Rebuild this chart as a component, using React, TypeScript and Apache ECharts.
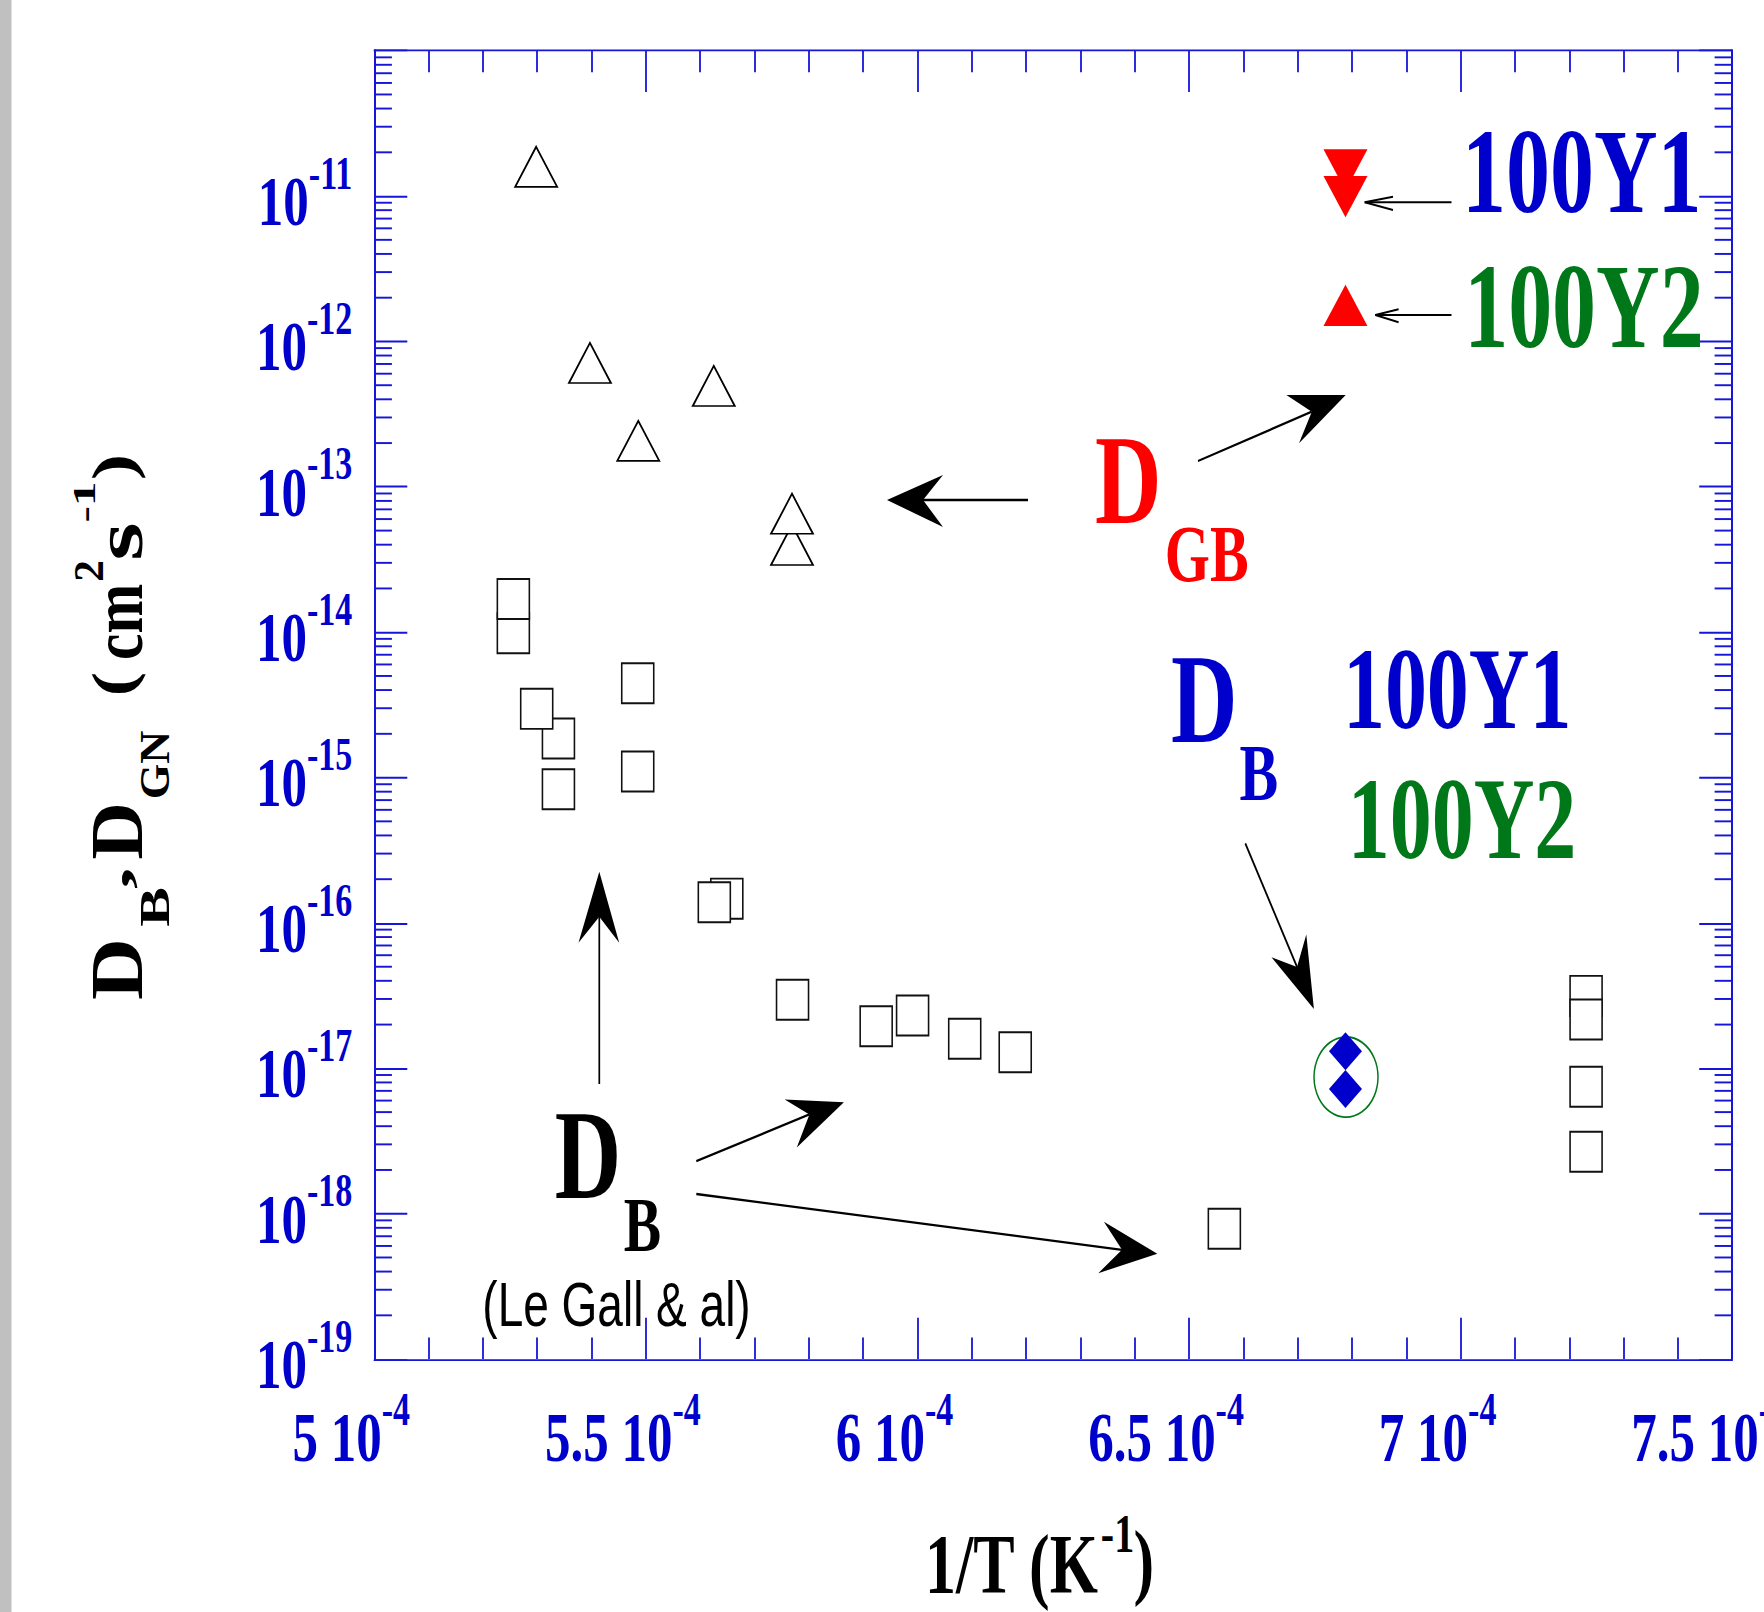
import React, { useEffect, useRef } from 'react';
import * as echarts from 'echarts';

// Page geometry: the reference is vertically stretched, so the chart is drawn
// in an unstretched frame and stretched with a CSS scaleY.
const FULL_W = 1764;
const FULL_H = 1612;
const H = 1168;
const S = FULL_H / H;

// ---------- data (x in units of 1e-4 K^-1, y in cm^2 s^-1) ----------
// D_GB (Le Gall & al) open triangles
const gbLeGallX = [5.298, 5.397, 5.486, 5.625, 5.769, 5.769];
const gbLeGallY = [1.59e-11, 7.11e-13, 2.07e-13, 4.94e-13, 3.98e-14, 6.53e-14];

// D_B (Le Gall & al) open squares
const bLeGallX = [5.256, 5.256, 5.339, 5.299, 5.339, 5.485, 5.485, 5.649, 5.626, 5.770, 5.924, 5.991, 6.087, 6.180, 6.565, 7.231, 7.231, 7.231, 7.231];
const bLeGallY = [9.84e-15, 1.69e-14, 1.86e-15, 2.97e-15, 8.32e-16, 4.45e-15, 1.10e-15, 1.47e-16, 1.39e-16, 2.96e-17, 1.95e-17, 2.31e-17, 1.60e-17, 1.29e-17, 7.87e-19, 3.15e-17, 2.17e-17, 7.46e-18, 2.67e-18];

// D_GB 100Y1 (down triangles) and 100Y2 (up triangle)
const gb100Y1X = [6.788, 6.788];
const gb100Y1Y = [1.51e-11, 9.91e-12];
const gb100Y2X = [6.788];
const gb100Y2Y = [1.77e-12];

// D_B 100Y1 / 100Y2 (diamonds) and the ring around them
const b100YX = [6.788, 6.788];
const b100YY = [1.31e-17, 7.22e-18];
const ringX = [6.789];
const ringY = [8.71e-18];

// ---------- axes ----------
const xMin = 5;
const xMax = 7.5;
const xStep = 0.5;
const xTickLabels = ['5', '5.5', '6', '6.5', '7', '7.5'];
const yMin = 1e-19;
const yMax = 1e-10;
const yTickExponents = ['-19', '-18', '-17', '-16', '-15', '-14', '-13', '-12', '-11'];
const yDecades = [-19, -18, -17, -16, -15, -14, -13, -12, -11];
const minorMantissas = [2, 3, 4, 5, 6, 7, 8, 9];

const SERIF = '"Liberation Serif", "Times New Roman", serif';
const SANS = '"Liberation Sans", Arial, sans-serif';
const BLUE = '#0000CC';
const AXIS = '#1616D8';
const GREEN = '#00781A';
const RED = '#FF0000';

const zip = (xs: number[], ys: number[]) => xs.map((x, i) => [x, ys[i]]);

function txt(text: string, x: number, yFull: number, fontSize: number, fill: string, opt: any = {}) {
  const el: any = {
    type: 'text',
    x,
    y: yFull / S,
    silent: true,
    z: 10,
    style: {
      text,
      fill,
      fontSize,
      fontFamily: opt.family || SERIF,
      fontWeight: opt.weight || 'bold',
      lineHeight: Math.round(fontSize * (opt.lh || 0.75)),
      align: 'center',
      verticalAlign: 'middle',
      textAlign: 'center',
      textVerticalAlign: 'middle',
    },
  };
  if (opt.rotation) el.rotation = opt.rotation;
  if (opt.scaleX) el.scaleX = opt.scaleX;
  return el;
}

const pt = (x: number, yFull: number) => [x, yFull / S];

function solidArrow(from: number[], notch: number[], tip: number[], b1: number[], b2: number[]) {
  const f = pt(from[0], from[1]);
  const n = pt(notch[0], notch[1]);
  return [
    { type: 'line', silent: true, z: 10, shape: { x1: f[0], y1: f[1], x2: n[0], y2: n[1] }, style: { stroke: '#000', lineWidth: 1.7 } },
    {
      type: 'polygon', silent: true, z: 10,
      shape: { points: [pt(tip[0], tip[1]), pt(b1[0], b1[1]), n, pt(b2[0], b2[1])] },
      style: { fill: '#000' },
    },
  ];
}

function openArrow(from: number[], tip: number[], b1: number[], b2: number[]) {
  const f = pt(from[0], from[1]);
  const t = pt(tip[0], tip[1]);
  return [
    { type: 'line', silent: true, z: 10, shape: { x1: f[0], y1: f[1], x2: t[0], y2: t[1] }, style: { stroke: '#000', lineWidth: 1.5 } },
    { type: 'polyline', silent: true, z: 10, shape: { points: [pt(b1[0], b1[1]), t, pt(b2[0], b2[1])] }, style: { stroke: '#000', lineWidth: 1.5, fill: null } },
  ];
}

const R90 = Math.PI / 2;

export default function App() {
  const ref = useRef<HTMLDivElement>(null);

  useEffect(() => {
    if (!ref.current) return;
    const chart = echarts.init(ref.current, null, { renderer: 'svg' });

    const yMinorTicks: number[] = [];
    yDecades.forEach((e) => minorMantissas.forEach((m) => yMinorTicks.push(m * Math.pow(10, e))));

    const labelRich = {
      b: { fontSize: 51, fontFamily: SERIF, fontWeight: 'bold', color: BLUE, lineHeight: 75 },
      s: { fontSize: 34, fontFamily: SERIF, fontWeight: 'bold', color: BLUE, lineHeight: 34, verticalAlign: 'top' },
    };

    const xAxisBase = {
      type: 'value',
      min: xMin,
      max: xMax,
      interval: xStep,
      axisLine: { show: true, onZero: false, lineStyle: { color: AXIS, width: 1.4 } },
      axisTick: { show: true, inside: true, length: 30, lineStyle: { color: AXIS, width: 1.8 } },
      minorTick: { show: true, splitNumber: 5, length: 15.6, lineStyle: { color: AXIS, width: 1.8 } },
      splitLine: { show: false },
      minorSplitLine: { show: false },
    };
    const yAxisBase = {
      type: 'log',
      logBase: 10,
      min: yMin,
      max: yMax,
      axisLine: { show: true, onZero: false, lineStyle: { color: AXIS, width: 2 } },
      axisTick: { show: true, inside: true, length: 33, lineStyle: { color: AXIS, width: 1.4 } },
      minorTick: { show: false },
      splitLine: { show: false },
      minorSplitLine: { show: false },
    };

    const graphics: any[] = [
      { type: 'rect', silent: true, z: 0, shape: { x: 0, y: 0, width: 11.5, height: H }, style: { fill: '#C0C0C0' } },
      // Y axis title (rotated pieces): D_B, D_GN (cm^2 s^-1)
      txt('D', 117, 969, 74, '#000', { rotation: R90, scaleX: 0.84 }),
      txt('B', 154, 907, 43, '#000', { rotation: R90, scaleX: 1.0 }),
      txt(',', 112, 878, 50, '#000', { rotation: R90, scaleX: 1.3 }),
      txt('D', 117, 831, 74, '#000', { rotation: R90, scaleX: 0.78 }),
      txt('GN', 154, 765, 43, '#000', { rotation: R90, scaleX: 0.77 }),
      txt('(', 112.3, 684, 60, '#000', { rotation: R90, scaleX: 0.88 }),
      txt('cm', 117.4, 622, 72, '#000', { rotation: R90, scaleX: 0.6 }),
      txt('2', 89.2, 571, 42, '#000', { rotation: R90, scaleX: 0.75 }),
      txt('s', 118.8, 541.5, 68, '#000', { rotation: R90, scaleX: 1.05 }),
      txt('-1', 84.2, 502, 32, '#000', { rotation: R90, scaleX: 1.12 }),
      txt(')', 112.3, 467, 60, '#000', { rotation: R90, scaleX: 0.96 }),
      // X axis title: 1/T (K^-1)
      txt('1/T (K', 1011.5, 1563.5, 62, '#000', { lh: 0.7 }),
      txt('-1', 1117.5, 1533.5, 40, '#000', { lh: 0.7 }),
      txt(')', 1143.7, 1560, 62, '#000', { lh: 0.7 }),
      // D_GB annotation
      txt('D', 1128.3, 480.3, 92, RED),
      txt('GB', 1206.7, 554, 58, RED),
      // D_B 100Y annotation
      txt('D', 1204.2, 698.6, 92, BLUE),
      txt('B', 1258.9, 772.7, 58, BLUE),
      txt('100Y1', 1457.2, 689, 84, BLUE),
      txt('100Y2', 1462, 819, 84, GREEN),
      // top-right legend labels
      txt('100Y1', 1581.8, 171, 88, BLUE),
      txt('100Y2', 1583.9, 306, 88, GREEN),
      // D_B Le Gall annotation
      txt('D', 587.9, 1155, 92, '#000'),
      txt('B', 642.4, 1225, 56, '#000'),
      txt('(Le Gall & al)', 616.5, 1304, 46, '#000', { family: SANS, weight: 'normal', lh: 0.8 }),
      // arrows
      ...solidArrow([1028, 500], [923, 500], [887, 500], [943, 475], [943, 527]),
      ...solidArrow([1198, 461], [1311.8, 411.7], [1345.7, 395], [1286.4, 395], [1299, 443.3]),
      ...solidArrow([599.3, 1084], [599.3, 916.7], [599.3, 871.7], [578.5, 942.7], [619.2, 942.7]),
      ...solidArrow([696.3, 1161.2], [809.4, 1114.4], [843.9, 1102.3], [784.7, 1099.5], [796.8, 1147.5]),
      ...solidArrow([696.3, 1194], [1122, 1249.8], [1157.3, 1253.7], [1103.9, 1221.7], [1098.3, 1273.2]),
      ...solidArrow([1245.3, 843.3], [1297, 966.9], [1313.9, 1009], [1271.5, 957.3], [1306.3, 934.4]),
      ...openArrow([1451.5, 202.3], [1364.7, 202.3], [1393, 196.7], [1393, 210]),
      ...openArrow([1451.5, 315], [1375.3, 315], [1398.6, 309.3], [1398.6, 322.3]),
    ];

    const option: any = {
      animation: false,
      backgroundColor: '#ffffff',
      grid: {
        left: 374.3,
        right: FULL_W - 1732.2,
        top: 50.7 / S,
        bottom: H - 1359.1 / S,
        containLabel: false,
        outerBoundsMode: 'none',
      },
      xAxis: [
        {
          ...xAxisBase,
          position: 'bottom',
          axisLabel: {
            show: true,
            margin: 19,
            padding: [0, 46, 0, 0],
            formatter: (v: number) => {
              const i = Math.round((v - xMin) / xStep);
              const l = xTickLabels[i];
              return l === undefined ? '' : '{b|' + l + ' 10}{s|-4}';
            },
            rich: labelRich,
          },
        },
        { ...xAxisBase, position: 'top', axisLabel: { show: false } },
      ],
      yAxis: [
        {
          ...yAxisBase,
          position: 'left',
          axisLabel: {
            show: true,
            margin: 22,
            padding: [7, 0, 0, 0],
            formatter: (v: number) => {
              const e = Math.round(Math.log10(v));
              const l = yTickExponents[e + 19];
              return l === undefined ? '' : '{b|10}{s|' + l + '}';
            },
            rich: labelRich,
          },
        },
        { ...yAxisBase, position: 'right', axisLabel: { show: false } },
      ],
      series: [
        {
          type: 'custom',
          silent: true,
          clip: false,
          z: 3,
          xAxisIndex: 0,
          yAxisIndex: 0,
          data: yMinorTicks.map((v) => [xMin, v]),
          encode: { x: 0, y: 1 },
          renderItem: (params: any, api: any) => {
            const v = api.value(1);
            const l = api.coord([xMin, v]);
            const r = api.coord([xMax, v]);
            return {
              type: 'group',
              children: [
                { type: 'line', shape: { x1: l[0], y1: l[1], x2: l[0] + 17.6, y2: l[1] }, style: { stroke: AXIS, lineWidth: 1.4 } },
                { type: 'line', shape: { x1: r[0], y1: r[1], x2: r[0] - 17.6, y2: r[1] }, style: { stroke: AXIS, lineWidth: 1.4 } },
              ],
            };
          },
        },
        {
          name: 'D_GB Le Gall',
          type: 'scatter',
          silent: true,
          symbol: 'triangle',
          symbolSize: [42, 29],
          itemStyle: { color: '#ffffff', borderColor: '#000', borderWidth: 1.5, opacity: 1 },
          data: zip(gbLeGallX, gbLeGallY),
          z: 4,
        },
        {
          name: 'D_B Le Gall',
          type: 'scatter',
          silent: true,
          symbol: 'rect',
          symbolSize: [32, 29],
          itemStyle: { color: '#ffffff', borderColor: '#111', borderWidth: 1.5, opacity: 1 },
          data: zip(bLeGallX, bLeGallY),
          z: 4,
        },
        {
          name: 'D_GB 100Y1',
          type: 'scatter',
          silent: true,
          symbol: 'triangle',
          symbolRotate: 180,
          symbolSize: [44, 30],
          itemStyle: { color: RED, opacity: 1 },
          data: zip(gb100Y1X, gb100Y1Y),
          z: 4,
        },
        {
          name: 'D_GB 100Y2',
          type: 'scatter',
          silent: true,
          symbol: 'triangle',
          symbolSize: [44, 30],
          itemStyle: { color: RED, opacity: 1 },
          data: zip(gb100Y2X, gb100Y2Y),
          z: 4,
        },
        {
          name: 'ring',
          type: 'scatter',
          silent: true,
          symbol: 'circle',
          symbolSize: [64, 58],
          itemStyle: { color: 'rgba(0,0,0,0)', borderColor: GREEN, borderWidth: 1.4, opacity: 1 },
          data: zip(ringX, ringY),
          z: 4,
        },
        {
          name: 'D_B 100Y',
          type: 'scatter',
          silent: true,
          symbol: 'diamond',
          symbolSize: [33, 27.5],
          itemStyle: { color: BLUE, opacity: 1 },
          data: zip(b100YX, b100YY),
          z: 5,
        },
      ],
      graphic: { elements: graphics },
    };

    chart.setOption(option);
    return () => chart.dispose();
  }, []);

  return (
    <div
      ref={ref}
      style={{
        position: 'absolute',
        left: 0,
        top: 0,
        width: FULL_W,
        height: H,
        transform: `scaleY(${S})`,
        transformOrigin: '0 0',
        background: '#fff',
      }}
    />
  );
}
